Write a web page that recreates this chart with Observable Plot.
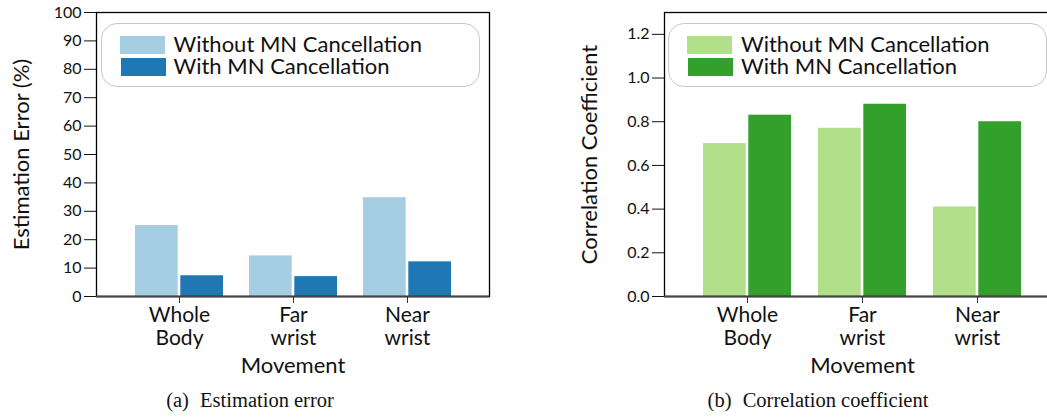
<!DOCTYPE html>
<html>
<head>
<meta charset="utf-8">
<script src="https://cdn.jsdelivr.net/npm/d3@7"></script>
<script src="https://cdn.jsdelivr.net/npm/@observablehq/plot@0.6"></script>
<style>
  html, body { margin: 0; padding: 0; background: #fff; }
  #fig { position: relative; width: 1047px; height: 418px; overflow: hidden; font-family: Lato, sans-serif; }
  .panel { position: absolute; top: 0; }
  .panel svg { max-width: none !important; }
  .legend { position: absolute; box-sizing: border-box; border: 1px solid #c8c8c8; border-radius: 16px; background: #fff; }
  .legend .row { position: absolute; white-space: nowrap; font-size: 22px; line-height: 21px; color: #111; }
  .legend .sw { position: absolute; width: 45px; height: 18px; }
  .caption { position: absolute; top: 390px; font-family: "Liberation Serif", serif; font-size: 20.5px; line-height: 1; color: #111; transform: translateX(-50%); white-space: nowrap; }
  .caption .tag { margin-right: 6px; }
</style>
</head>
<body>
<div id="fig"></div>
<script>
// Movement categories and the two measurement conditions
const movements = ["Whole Body", "Far wrist", "Near wrist"];
const series = ["Without MN Cancellation", "With MN Cancellation"];

// (a) estimation error in percent
const errorWithout = [25.0, 14.3, 34.8];
const errorWith = [7.3, 7.0, 12.2];
const errorTicks = [0, 10, 20, 30, 40, 50, 60, 70, 80, 90, 100];

// (b) correlation coefficient
const corrWithout = [0.70, 0.77, 0.41];
const corrWith = [0.83, 0.88, 0.80];
const corrTicks = [0, 0.2, 0.4, 0.6, 0.8, 1.0, 1.2];

const blues = ["#a6cee3", "#1f78b4"];
const greens = ["#b2df8a", "#33a02c"];

const toRows = (without, withMN) =>
  movements.flatMap((m, i) => [
    {movement: m, series: series[0], value: without[i]},
    {movement: m, series: series[1], value: withMN[i]}
  ]);

function panel({rows, yDomain, yTicks, yFormat, yLabel, colors, width, marginLeft, marginRight}) {
  return Plot.plot({
    width,
    height: 380,
    marginLeft,
    marginRight,
    marginTop: 12,
    marginBottom: 84,
    style: {fontFamily: "Lato, sans-serif", background: "transparent", overflow: "visible", color: "#111"},
    x: {domain: movements, paddingInner: 0.232, paddingOuter: 0.33, axis: null},
    y: {domain: yDomain, axis: null},
    color: {domain: series, range: colors},
    marks: [
      Plot.barY(rows.filter((d) => d.series === series[0]), {x: "movement", y: "value", fill: "series", insetRight: 45.3}),
      Plot.barY(rows.filter((d) => d.series === series[1]), {x: "movement", y: "value", fill: "series", insetLeft: 45.3}),
      Plot.frame({stroke: "#000", strokeWidth: 1.3}),
      Plot.ruleY([yDomain[0]], {stroke: "#444", strokeWidth: 2}),
      Plot.axisY({ticks: yTicks, tickFormat: yFormat, tickSize: 12, tickPadding: 3, fontSize: 16, label: null}),
      Plot.axisX({tickSize: 7, tickFormat: () => "", label: null, stroke: "#333"}),
      Plot.text(movements, {x: (d) => d, frameAnchor: "bottom", lineAnchor: "top", dy: 9, text: (d) => d.replace(" ", "\n"), fontSize: 21, lineHeight: 1.1}),
      Plot.text(["Movement"], {frameAnchor: "bottom", lineAnchor: "bottom", dy: 76, fontSize: 22}),
      Plot.text([yLabel], {frameAnchor: "left", textAnchor: "middle", rotate: -90, lineAnchor: "bottom", dx: -68, fontSize: 22})
    ]
  });
}

function legend(plot, left, top) {
  const color = plot.scale("color");
  const box = document.createElement("div");
  box.className = "legend";
  Object.assign(box.style, {left: left + "px", top: top + "px", width: "379px", height: "64px"});
  series.forEach((s, i) => {
    const sw = document.createElement("div");
    sw.className = "sw";
    Object.assign(sw.style, {left: (18 + i) + "px", top: (12 + i * 22.3) + "px", background: color.apply(s)});
    const label = document.createElement("div");
    label.className = "row";
    Object.assign(label.style, {left: "72px", top: (9.5 + i * 21.6) + "px"});
    label.textContent = s;
    box.append(sw, label);
  });
  return box;
}

const fig = document.getElementById("fig");

const left = panel({
  rows: toRows(errorWithout, errorWith),
  yDomain: [0, 100], yTicks: errorTicks, yFormat: d3.format("d"),
  yLabel: "Estimation Error (%)", colors: blues,
  width: 520, marginLeft: 96, marginRight: 31
});
const leftWrap = document.createElement("div");
leftWrap.className = "panel";
Object.assign(leftWrap.style, {left: "0px", width: "520px", height: "380px"});
leftWrap.append(left, legend(left, 100.5, 22.5));
fig.append(leftWrap);

const right = panel({
  rows: toRows(corrWithout, corrWith),
  yDomain: [0, 1.3], yTicks: corrTicks, yFormat: d3.format(".1f"),
  yLabel: "Correlation Coefficient", colors: greens,
  width: 530, marginLeft: 124, marginRight: 10
});
const rightWrap = document.createElement("div");
rightWrap.className = "panel";
Object.assign(rightWrap.style, {left: "540px", width: "530px", height: "380px"});
rightWrap.append(right, legend(right, 128, 22.5));
fig.append(rightWrap);

for (const [tag, text, x] of [["(a)", "Estimation error", 250], ["(b)", "Correlation coefficient", 818]]) {
  const c = document.createElement("div");
  c.className = "caption";
  c.style.left = x + "px";
  const t = document.createElement("span");
  t.className = "tag";
  t.textContent = tag;
  c.append(t, document.createTextNode(" " + text));
  fig.append(c);
}
</script>
</body>
</html>
